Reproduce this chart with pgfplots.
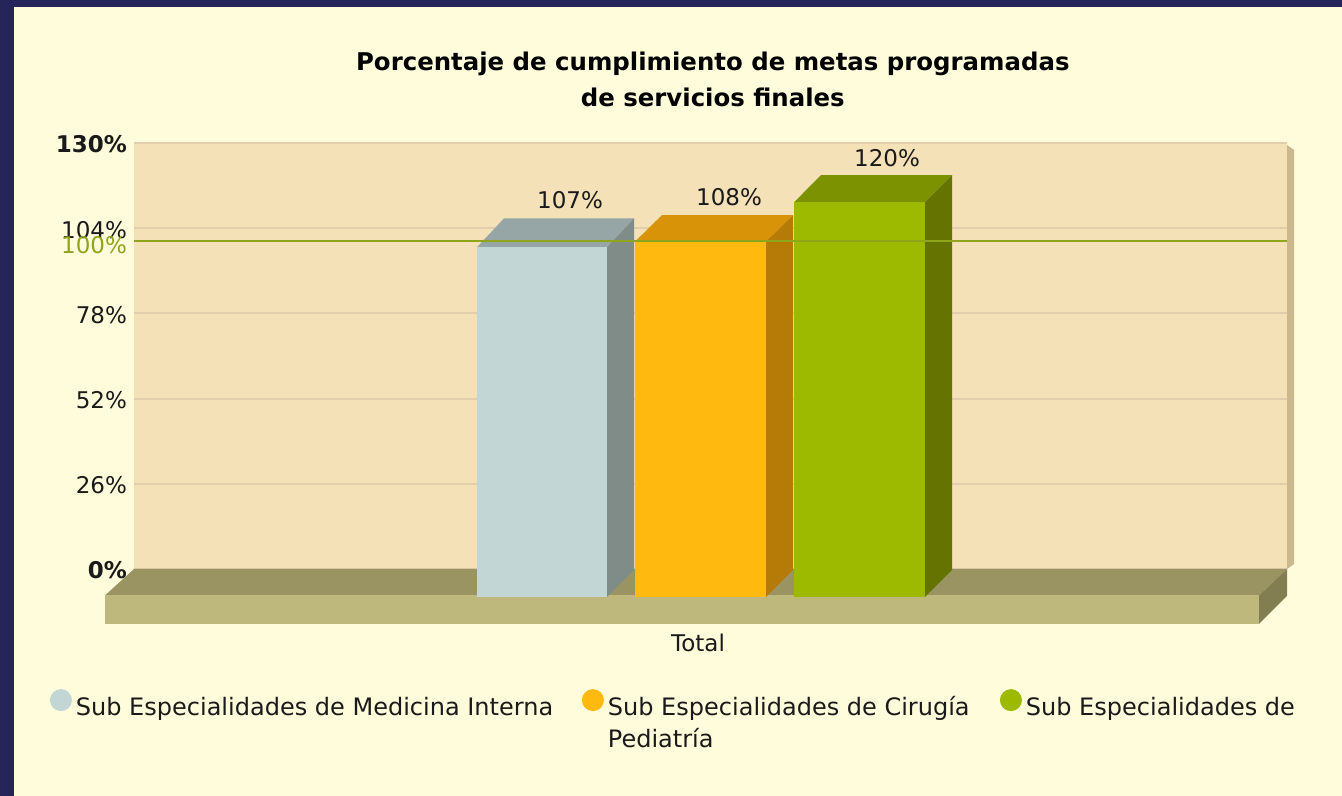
\documentclass[border=0pt]{standalone}
\usepackage{fontspec}
\setmainfont{DejaVu Sans}
\usepackage{pgfplots}
\pgfplotsset{compat=1.18}
\definecolor{frameNavy}{HTML}{25255A}
\definecolor{pageCream}{HTML}{FFFCDC}
\definecolor{wallTan}{HTML}{F4E1B8}
\definecolor{wallSide}{HTML}{C9B88E}
\definecolor{gridTan}{HTML}{E1CEAC}
\definecolor{floorTop}{HTML}{9A9462}
\definecolor{floorFront}{HTML}{BEB87C}
\definecolor{floorSide}{HTML}{827E52}
\definecolor{blueFront}{HTML}{C2D6D6}
\definecolor{blueTop}{HTML}{96A6A6}
\definecolor{blueSide}{HTML}{7F8C88}
\definecolor{orangeFront}{HTML}{FFB90F}
\definecolor{orangeTop}{HTML}{D99308}
\definecolor{orangeSide}{HTML}{B67A06}
\definecolor{greenFront}{HTML}{9DB900}
\definecolor{greenTop}{HTML}{7D9200}
\definecolor{greenSide}{HTML}{657400}
\definecolor{goalGreen}{HTML}{8FA51C}
\definecolor{inkDark}{HTML}{1A1A1A}
\newcommand{\fs}{\fontsize{11.5}{18}\selectfont}
\newcommand{\fl}{\fontsize{12}{16}\selectfont}
\newcommand{\ft}{\fontsize{12.2}{18}\selectfont}
\begin{document}
\begin{tikzpicture}
% page and frame: 1px = 0.5pt, origin at the wall's lower left corner
\fill[frameNavy] (-67pt,-113.5pt) rectangle (604pt,284.5pt);
\fill[pageCream] (-60pt,-113.5pt) rectangle (604pt,281pt);
\begin{axis}[
  scale only axis,
  width=576.5pt,height=213pt,
  xmin=134,xmax=1287,ymin=0,ymax=130,
  clip=false,
  axis line style={draw=none},
  axis background/.style={fill=wallTan},
  major tick length=0pt,
  ymajorgrids,
  grid style={gridTan,line width=1pt},
  ytick={0,26,52,78,104,130},
  yticklabels={\textbf{0\%},26\%,52\%,78\%,104\%,\textbf{130\%}},
  extra y ticks={100},
  extra y tick labels={100\%},
  extra y tick style={grid=none,yticklabel style={text=goalGreen,yshift=-1pt}},
  yticklabel style={font=\fs,text=inkDark,anchor=east,xshift=0pt,yshift=-0.8pt},
  xtick={698},
  xticklabels={Total},
  xticklabel style={font=\fs,text=inkDark,anchor=center,yshift=-37pt},
  title={Porcentaje de cumplimiento de metas programadas\\de servicios finales},
  title style={font=\ft\bfseries,text=black,align=center,at={(0.502,1.121)},anchor=center},
  legend style={draw=none,fill=none,at={(-0.0729,-0.282)},anchor=north west,
    legend columns=3,font=\fl,text=inkDark,inner sep=0pt,outer sep=0pt,
    nodes={inner sep=0pt,outer sep=0pt},
    /tikz/every even column/.style={column sep=2pt}},
  legend cell align=left,
]
% floor
\addplot[fill=floorTop,draw=none,forget plot] coordinates {(134,0)(1287,0)(1259,-8.08)(105,-8.08)} -- cycle;
\addplot[fill=floorFront,draw=none,forget plot] coordinates {(105,-8.08)(1259,-8.08)(1259,-16.77)(105,-16.77)} -- cycle;
\addplot[fill=floorSide,draw=none,forget plot] coordinates {(1259,-8.08)(1287,0)(1287,-8.2)(1259,-16.77)} -- cycle;
% wall thickness on the right
\addplot[fill=wallSide,draw=none,forget plot] coordinates {(1287,129.4)(1294,127.9)(1294,1.5)(1287,0)} -- cycle;
% blue bar, 107
\addplot[fill=blueTop,draw=none,forget plot] coordinates {(477,98.2)(504,107)(634,107)(607,98.2)} -- cycle;
\addplot[fill=blueSide,draw=none,forget plot] coordinates {(607,98.2)(634,107)(634,-0.3)(607,-8.54)} -- cycle;
\addplot[fill=blueFront,draw=none,
  legend image code/.code={\fill[blueFront] (5.5pt,3.7pt) circle (5.5pt);}]
  coordinates {(477,-8.54)(607,-8.54)(607,98.2)(477,98.2)} -- cycle;
\addlegendentry{\makebox[253pt][l]{\hspace{2pt}Sub Especialidades de Medicina Interna}}
% orange bar, 108
\addplot[fill=orangeTop,draw=none,forget plot] coordinates {(635,99.9)(662,108)(793,108)(766,99.9)} -- cycle;
\addplot[fill=orangeSide,draw=none,forget plot] coordinates {(766,99.9)(793,108)(793,-0.3)(766,-8.54)} -- cycle;
\addplot[fill=orangeFront,draw=none,
  legend image code/.code={\fill[orangeFront] (5.5pt,3.7pt) circle (5.5pt);}]
  coordinates {(635,-8.54)(766,-8.54)(766,99.9)(635,99.9)} -- cycle;
\addlegendentry{\makebox[196pt][l]{\hspace{2pt}\rlap{\raisebox{-16pt}{Pediatría}}Sub Especialidades de Cirugía}}
% green bar, 120
\addplot[fill=greenTop,draw=none,forget plot] coordinates {(794,111.9)(821,120.2)(952,120.2)(925,111.9)} -- cycle;
\addplot[fill=greenSide,draw=none,forget plot] coordinates {(925,111.9)(952,120.2)(952,-0.3)(925,-8.54)} -- cycle;
\addplot[fill=greenFront,draw=none,
  legend image code/.code={\fill[greenFront] (5.5pt,3.7pt) circle (5.5pt);}]
  coordinates {(794,-8.54)(925,-8.54)(925,111.9)(794,111.9)} -- cycle;
\addlegendentry{\hspace{2pt}Sub Especialidades de}
% value labels
\addplot[draw=none,forget plot,nodes near coords={\pgfmathprintnumber[assume math mode=true]{\pgfplotspointmeta}\%},
  point meta=y,
  every node near coord/.append style={font=\fs,text=inkDark,anchor=center,yshift=9pt,inner sep=0pt}]
  coordinates {(570,107)(729,108)(887,120)};
% 100% goal line
\addplot[goalGreen,line width=1.1pt,forget plot] coordinates {(134,100)(1287,100)};
\end{axis}
\end{tikzpicture}
\end{document}
